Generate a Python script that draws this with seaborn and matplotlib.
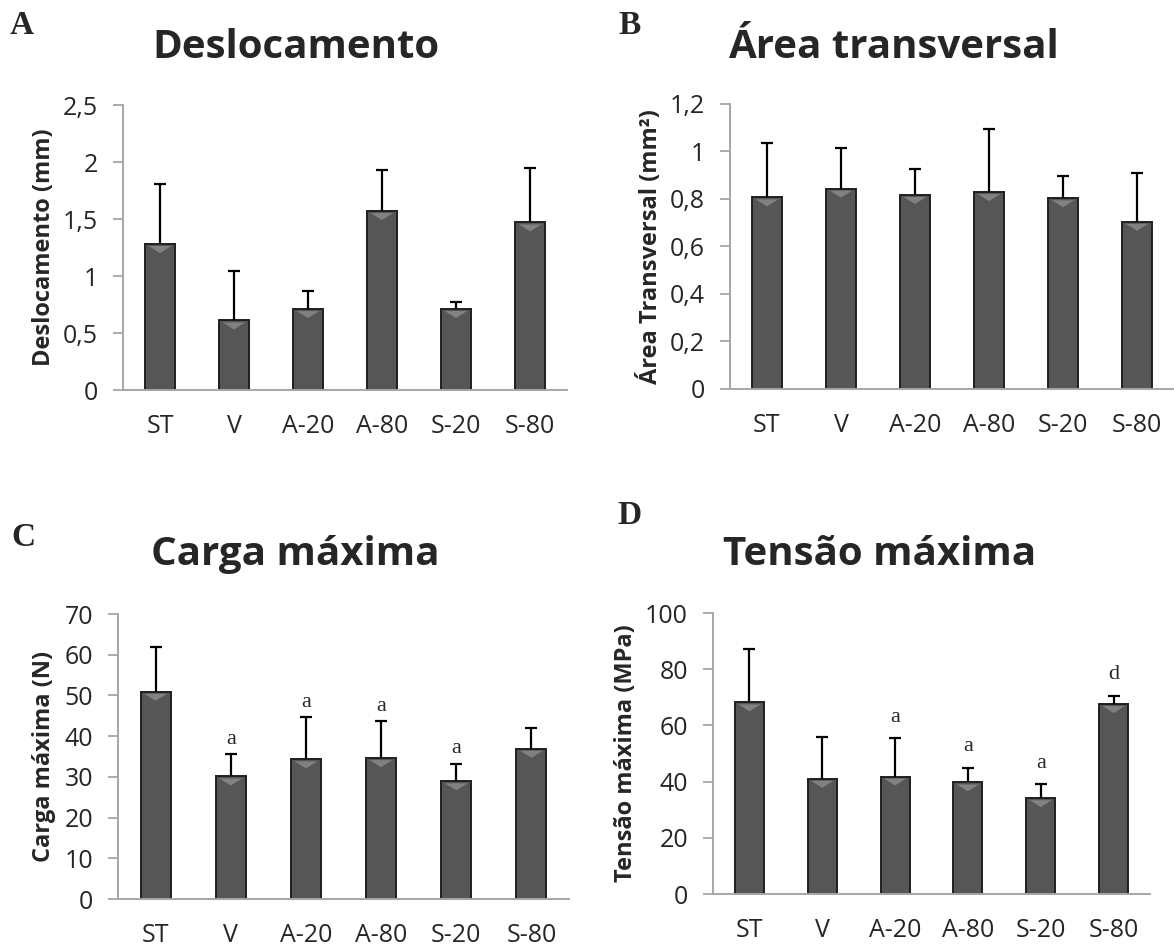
import numpy as np
import pandas as pd
import matplotlib
matplotlib.use("Agg")
import matplotlib.pyplot as plt
from matplotlib.patches import Polygon
import seaborn as sns

# ---------------- data ----------------
groups = ["ST", "V", "A-20", "A-80", "S-20", "S-80"]

desloc_mean = [1.28, 0.61, 0.71, 1.57, 0.71, 1.47]
desloc_sd = [0.53, 0.43, 0.16, 0.36, 0.065, 0.48]

area_mean = [0.807, 0.844, 0.817, 0.829, 0.803, 0.704]
area_sd = [0.23, 0.171, 0.108, 0.267, 0.094, 0.204]

carga_mean = [50.9, 30.1, 34.3, 34.6, 28.9, 36.9]
carga_sd = [11.1, 5.5, 10.3, 9.0, 4.3, 5.2]
carga_sig = ["", "a", "a", "a", "a", ""]

tensao_mean = [68.2, 41.0, 41.8, 39.7, 34.1, 67.6]
tensao_sd = [19.0, 14.9, 13.7, 5.2, 4.9, 2.9]
tensao_sig = ["", "", "a", "a", "a", "d"]

desloc_ticks = [0, 0.5, 1, 1.5, 2, 2.5]
desloc_ticklabels = ["0", "0,5", "1", "1,5", "2", "2,5"]
area_ticks = [0, 0.2, 0.4, 0.6, 0.8, 1.0, 1.2]
area_ticklabels = ["0", "0,2", "0,4", "0,6", "0,8", "1", "1,2"]
carga_ticks = [0, 10, 20, 30, 40, 50, 60, 70]
carga_ticklabels = ["0", "10", "20", "30", "40", "50", "60", "70"]
tensao_ticks = [0, 20, 40, 60, 80, 100]
tensao_ticklabels = ["0", "20", "40", "60", "80", "100"]

# ---------------- style ----------------
sns.set_style("white")
plt.rcParams["font.family"] = ["Open Sans", "DejaVu Sans"]

W, H = 1174, 946
fig = plt.figure(figsize=(W / 100, H / 100), dpi=100)
fig.patch.set_facecolor("white")

BAR = "#565656"
EDGE = "#1f1f1f"
AXC = "#a6a6a6"
HILITE = "#8c8c8c"


def rect(l, r, t, b):
    return [l / W, 1 - b / H, (r - l) / W, (b - t) / H]


def px(x, y):
    return x / W, 1 - y / H


def panel(box, means, sds, ticks, ticklabels, ylabel, ylab_x, title, title_xy,
          letter, letter_xy, sig=None, sig_off=15):
    ax = fig.add_axes(rect(*box))
    df = pd.DataFrame({"grupo": groups, "valor": means})
    sns.barplot(data=df, x="grupo", y="valor", ax=ax, color=BAR,
                saturation=1, width=0.4, edgecolor=EDGE, linewidth=1.4,
                errorbar=None, zorder=2)
    ax.set_ylim(ticks[0], ticks[-1])
    ax.set_xlim(-0.5, len(groups) - 0.5)
    l, r, t, b = box
    per_px = (ticks[-1] - ticks[0]) / (b - t)
    # bevel highlight on top of each bar (derived from the drawn bars)
    for p in list(ax.patches):
        x0, w, h = p.get_x(), p.get_width(), p.get_height()
        tri = Polygon([(x0 + 0.12 * w, h - 2 * per_px),
                       (x0 + 0.88 * w, h - 2 * per_px),
                       (x0 + 0.5 * w, h - 9 * per_px)],
                      closed=True, facecolor=HILITE, edgecolor="none",
                      alpha=0.8, zorder=2.5)
        ax.add_patch(tri)
    x = np.arange(len(groups))
    zeros = np.zeros(len(groups))
    eb = ax.errorbar(x, means, yerr=[zeros, sds], fmt="none", ecolor="black",
                     elinewidth=1.6, capsize=4.5, capthick=1.6, zorder=3)
    caps = eb[1]
    if len(caps) == 2:
        caps[0].set_visible(False)
    ax.set_yticks(ticks)
    ax.set_yticklabels(ticklabels)
    ax.tick_params(axis="y", direction="out", length=7, width=1.3, color=AXC,
                   labelsize=18, pad=11, left=True)
    ax.tick_params(axis="x", length=0, labelsize=18, pad=17)
    for s in ["top", "right"]:
        ax.spines[s].set_visible(False)
    for s in ["left", "bottom"]:
        ax.spines[s].set_color(AXC)
        ax.spines[s].set_linewidth(1.4)
    ax.set_xlabel("")
    ax.set_ylabel(ylabel, fontsize=17, fontweight="bold", va="center")
    ax.yaxis.set_label_coords((ylab_x - l) / (r - l), 0.5)
    if sig is not None:
        for xi, m, s, lab in zip(x, means, sds, sig):
            if lab:
                ax.annotate(lab, (xi, m + s), xytext=(0, sig_off),
                            textcoords="offset pixels", ha="center",
                            va="center", fontsize=16,
                            family=["Liberation Serif", "DejaVu Serif"])
    fig.text(*px(*title_xy), title, fontsize=29, fontweight="bold",
             ha="center", va="baseline")
    fig.text(*px(*letter_xy), letter, fontsize=24, fontweight="bold",
             ha="center", va="center",
             family=["Liberation Serif", "DejaVu Serif"])
    return ax


panel((123, 567, 105, 390), desloc_mean, desloc_sd, desloc_ticks,
      desloc_ticklabels, "Deslocamento (mm)", 44, "Deslocamento", (296, 58),
      "A", (22, 25))
panel((730, 1174, 104, 389), area_mean, area_sd, area_ticks, area_ticklabels,
      "Área Transversal (mm²)", 650, "Área transversal", (893, 58),
      "B", (630, 25))
panel((118, 569, 614, 899), carga_mean, carga_sd, carga_ticks,
      carga_ticklabels, "Carga máxima (N)", 44, "Carga máxima", (295, 565),
      "C", (23, 537), sig=carga_sig, sig_off=15)
panel((713, 1150, 613, 894), tensao_mean, tensao_sd, tensao_ticks,
      tensao_ticklabels, "Tensão máxima (MPa)", 626, "Tensão máxima",
      (880, 565), "D", (630, 515), sig=tensao_sig, sig_off=21)

fig.savefig("out.png", dpi=100, facecolor="white")
